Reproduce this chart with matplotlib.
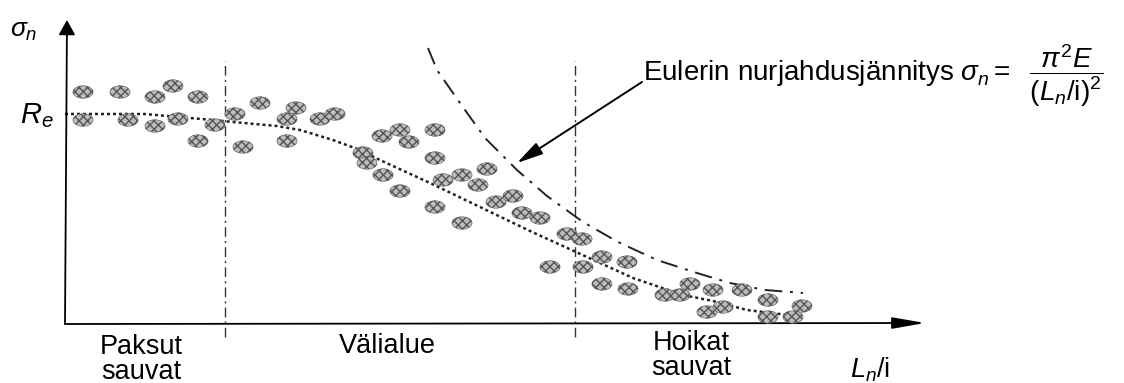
import numpy as np
import matplotlib
matplotlib.use("Agg")
import matplotlib.pyplot as plt
from matplotlib.path import Path

plt.rcParams['font.family'] = ['Liberation Sans', 'DejaVu Sans']
plt.rcParams['mathtext.fontset'] = 'custom'
plt.rcParams['mathtext.rm'] = 'Liberation Sans'
plt.rcParams['mathtext.it'] = 'Liberation Sans:italic'
plt.rcParams['mathtext.bf'] = 'Liberation Sans:bold'

# test results (slenderness L_n/i, buckling stress), in drawing units
test_x = [18, 55, 90, 108, 133, 18, 63, 90, 113, 150, 133,
          170, 178, 195, 231, 222, 222, 255, 270,
          317, 335, 344, 370, 298, 302, 370, 318, 335,
          378, 397, 422, 413, 370, 397, 431, 448, 457, 475,
          502, 517, 485, 518, 537, 562, 537, 563,
          600, 615, 625, 648, 677, 703, 737, 642, 658, 703, 728]
test_y = [232, 232, 227, 238, 227, 204, 204, 198, 205, 199, 183,
          210, 177, 221, 216, 205, 183, 205, 210,
          188, 194, 182, 194, 171, 161, 166, 149, 133,
          144, 149, 155, 139, 117, 101, 122, 128, 111, 106,
          90, 85, 57, 57, 67, 62, 40, 35,
          29, 29, 40, 34, 34, 24, 18, 12, 17, 7, 7]

# mean buckling curve
curve_x = [0, 80, 102, 148, 168, 212, 235, 268, 295, 315, 365, 415,
           465, 522, 568, 618, 648, 682, 715, 735]
curve_y = [210, 210, 208, 204, 202, 198, 194, 184, 174, 164, 141, 117,
           93, 67, 46, 29, 23, 14, 10, 7]

# Euler curve
euler_x = [363, 372, 395, 420, 452, 482, 518, 553, 592, 632, 665, 700, 738]
euler_y = [276, 254, 221, 186, 154, 128, 102, 82, 64, 51, 41, 34, 31]

# region limits
region_x = [160, 510]

fig = plt.figure(figsize=(11.24, 3.83), dpi=100)
ax = fig.add_axes([0, 0, 1, 1])
ax.set_xlim(-65, 1059)
ax.set_ylim(-59, 324)
ax.axis('off')

# axes with arrows
ax.annotate('', xy=(2, 304), xytext=(0, 0),
            arrowprops=dict(arrowstyle='-|>,head_length=0.9,head_width=0.5',
                            color='black', lw=1.3, shrinkA=0, shrinkB=0))
ax.annotate('', xy=(860, 1), xytext=(0, 0),
            arrowprops=dict(arrowstyle='-|>,head_length=2.0,head_width=0.35',
                            color='black', lw=1.3, shrinkA=0, shrinkB=0))

for xv in region_x:
    ax.plot([xv, xv], [-13, 263], color='#333333', lw=1.0,
            linestyle=(0, (7, 3, 1.5, 3)))

ax.plot(curve_x, curve_y, color='#222222', lw=1.8, linestyle=(0, (1.2, 1.2)))
ax.plot(euler_x, euler_y, color='#222222', lw=1.4, linestyle=(0, (9, 4, 1.5, 4)))

t = np.linspace(0, 2 * np.pi, 40)
blob = Path(np.column_stack([np.cos(t), 0.62 * np.sin(t)]))
ax.scatter(test_x, test_y, s=210, marker=blob, facecolor='#bdbdbd',
           edgecolor='#555555', hatch='xxxx', linewidth=0.4, zorder=3)

# Euler annotation
ax.annotate('', xy=(452, 161), xytext=(577, 242),
            arrowprops=dict(arrowstyle='-|>,head_length=1.6,head_width=0.4',
                            color='black', lw=1.4, shrinkA=0, shrinkB=0))
ax.text(578, 243, r'Eulerin nurjahdusjännitys $\sigma_n =\ \ \dfrac{\pi^2E}{(L_n/\mathrm{i})^2}$',
        fontsize=20, ha='left', va='baseline')

ax.text(-55, 287, r'$\sigma_n$', fontsize=19, ha='left', va='baseline')
ax.text(-45, 201, r'$R_e$', fontsize=21, ha='left', va='baseline')

ax.text(76, -10, 'Paksut\nsauvat', fontsize=19.5, ha='center', va='top', linespacing=0.95)
ax.text(322, -9, 'Välialue', fontsize=19.5, ha='center', va='top')
ax.text(626, -6, 'Hoikat\nsauvat', fontsize=19.5, ha='center', va='top', linespacing=0.95)
ax.text(785, -53, r'$L_n$/i', fontsize=19.5, ha='left', va='baseline')

fig.savefig('out.png', dpi=100)
